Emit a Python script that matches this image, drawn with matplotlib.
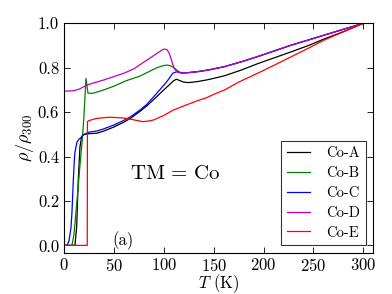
import matplotlib
matplotlib.use("Agg")
import matplotlib.pyplot as plt

plt.rcParams['font.family'] = 'serif'
plt.rcParams['font.serif'] = ['cmr10']
plt.rcParams['mathtext.fontset'] = 'cm'
plt.rcParams['axes.formatter.use_mathtext'] = True
plt.rcParams['axes.unicode_minus'] = False

# ---- data ----
labels = ['Co-A', 'Co-B', 'Co-C', 'Co-D', 'Co-E']

T_A = [0, 11, 12.7, 14.3, 16, 17.7, 19, 21, 25, 33, 40, 50, 60, 67, 76, 83, 93, 100, 106, 110, 113, 116, 120,
       125, 133, 143, 150, 161, 178, 194, 211, 228, 245, 261, 280, 300]
R_A = [0, 0, 0.084, 0.294, 0.444, 0.49, 0.497, 0.5, 0.503, 0.505, 0.515, 0.533, 0.555, 0.573, 0.603, 0.628,
       0.67, 0.7, 0.725, 0.742, 0.748, 0.742, 0.735, 0.733, 0.737, 0.745, 0.752, 0.764, 0.79, 0.818, 0.845,
       0.872, 0.9, 0.93, 0.962, 1.0]

T_B = [0, 8, 10, 13, 16, 18, 20, 22, 23, 24, 29, 40, 50, 62.7, 76, 85, 93, 100, 104, 108, 111, 114, 116, 119,
       125, 135, 145, 161, 178, 194, 211, 228, 245, 261, 280, 300]
R_B = [0, 0, 0.05, 0.2, 0.36, 0.46, 0.58, 0.752, 0.72, 0.685, 0.685, 0.7, 0.717, 0.742, 0.762, 0.782, 0.8,
       0.81, 0.812, 0.806, 0.797, 0.786, 0.779, 0.776, 0.778, 0.783, 0.79, 0.805, 0.827, 0.85, 0.876, 0.902,
       0.925, 0.947, 0.973, 1.0]

T_C = [0, 3, 5, 7, 8, 9.3, 10.3, 11, 13, 15, 18, 20, 25, 33, 40, 50, 60, 67, 76, 83, 93, 103, 109, 113, 119,
       125, 135, 145, 161, 178, 194, 211, 228, 245, 261, 280, 300]
R_C = [0, 0, 0.02, 0.08, 0.15, 0.29, 0.38, 0.42, 0.465, 0.478, 0.489, 0.5, 0.51, 0.515, 0.525, 0.542, 0.563,
       0.58, 0.609, 0.635, 0.685, 0.737, 0.775, 0.782, 0.776, 0.778, 0.783, 0.79, 0.805, 0.827, 0.85, 0.876,
       0.902, 0.925, 0.947, 0.973, 1.0]

T_D = [0, 5, 10, 15, 20, 25, 30, 40, 50, 60, 70, 80, 90, 97, 100, 103, 105, 107, 109, 111, 114, 118,
       125, 135, 145, 161, 178, 194, 211, 228, 245, 261, 280, 300]
R_D = [0.695, 0.695, 0.697, 0.703, 0.715, 0.725, 0.732, 0.745, 0.76, 0.775, 0.795, 0.825, 0.855, 0.876,
       0.884, 0.882, 0.87, 0.845, 0.815, 0.793, 0.779, 0.776, 0.778, 0.783, 0.79, 0.805, 0.827, 0.85, 0.876,
       0.902, 0.925, 0.947, 0.973, 1.0]

T_E = [0, 23.3, 23.5, 25, 33, 46, 59, 67, 79, 85, 90, 100, 109, 120, 136, 143, 150, 161, 175, 194, 211,
       228, 245, 261, 280, 300]
R_E = [0, 0, 0.557, 0.562, 0.572, 0.577, 0.574, 0.568, 0.557, 0.56, 0.565, 0.585, 0.608, 0.628, 0.655,
       0.665, 0.68, 0.70, 0.735, 0.775, 0.812, 0.85, 0.888, 0.925, 0.962, 1.0]

colors = ['k', 'g', 'b', 'm', 'r']
xticks = [0, 50, 100, 150, 200, 250, 300]
yticks = [0.0, 0.2, 0.4, 0.6, 0.8, 1.0]

fig = plt.figure(figsize=(3.92, 2.94), dpi=100)
ax = fig.add_axes([64 / 392, (294 - 252.7) / 294, (373.3 - 64) / 392, (252.7 - 23.3) / 294])

series = [(T_A, R_A), (T_B, R_B), (T_C, R_C), (T_D, R_D), (T_E, R_E)]
for (t, r), c, lab in zip(series, colors, labels):
    ax.plot(t, r, color=c, lw=0.9, label=lab)

ax.set_xlim(0, 310)
ax.set_ylim(-0.033, 1.0)
ax.set_xticks(xticks)
ax.set_yticks(yticks)
ax.set_yticklabels(['0.0', '0.2', '0.4', '0.6', '0.8', '1.0'])
ax.tick_params(direction='in', top=True, right=True, length=4, width=0.6, labelsize=12)
ax.tick_params(axis='x', pad=3)
for s in ax.spines.values():
    s.set_linewidth(0.8)

ax.set_xlabel(r'$T$ (K)', fontsize=12, labelpad=-1)
ax.set_ylabel(r'$\rho/\rho_{300}$', fontsize=13, labelpad=1)

ax.text(112, 0.32, r'$\mathrm{TM}\,=\,\mathrm{Co}$', fontsize=15, ha='center', va='center')
ax.text(59, 0.02, '(a)', fontsize=12, ha='center', va='center')

leg = ax.legend(loc='lower right', bbox_to_anchor=(0.976, 0.032), borderaxespad=0,
                fontsize=10.5, handlelength=1.6, handletextpad=1.1, labelspacing=0.42,
                borderpad=0.4, fancybox=False, frameon=True)
leg.get_frame().set_edgecolor('black')
leg.get_frame().set_linewidth(0.8)

fig.savefig('out.png', dpi=100)
